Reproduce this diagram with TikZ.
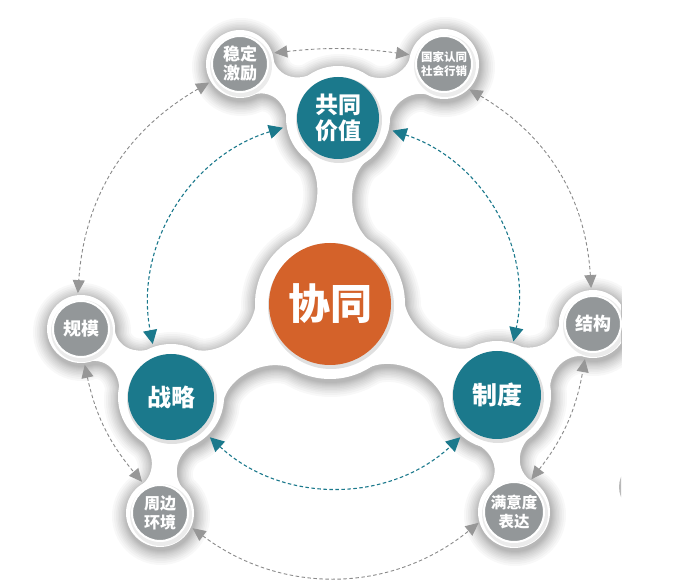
\documentclass[tikz,border=0pt]{standalone}
\usepackage{fontspec}
\newfontfamily\cjk{Noto Sans CJK SC}
\usetikzlibrary{calc,arrows.meta}
\pgfdeclarelayer{background}
\pgfsetlayers{background,main}
\definecolor{tealc}{HTML}{1B798C}
\definecolor{orangec}{HTML}{D4622A}
\definecolor{grayc}{HTML}{939799}
\definecolor{dashgray}{HTML}{8A8A8A}
\definecolor{tipgray}{HTML}{979797}
\tikzset{
 blobpath/.style={fill=white},
 cnode/.style={circle, inner sep=0pt, text=white, align=center},
 orangenode/.style={cnode, fill=orangec, minimum size=122pt, font=\cjk\bfseries\fontsize{42}{46}\selectfont},
 tealnode/.style={cnode, fill=tealc},
 graynode/.style={cnode, fill=grayc, draw=white, line width=2pt, minimum size=56pt, outer sep=8pt},
 tarc/.style={draw=tealc, line width=1.1pt, dash pattern=on 3.5pt off 2.5pt,
   {Triangle[length=14pt,width=14pt]}-{Triangle[length=14pt,width=14pt]}},
 garc/.style={draw=dashgray, line width=0.9pt, dash pattern=on 3.5pt off 2.5pt,
   {Triangle[length=13pt,width=12pt,color=tipgray]}-{Triangle[length=13pt,width=12pt,color=tipgray]}}
}
% neck between two ring disks: P Q rp rq w ap aq
\newcommand\neck[7]{%
  \coordinate (nA) at ($(#1)!#3!(#2)$);
  \coordinate (nB) at ($(#2)!#4!(#1)$);
  \path[blobpath] ($(#1)!#3!#6:(#2)$) .. controls ($(nA)!#5!90:(#2)$) and ($(nB)!#5!-90:(#1)$) .. ($(#2)!#4!-#7:(#1)$)
     -- ($(#2)!#4!#7:(#1)$) .. controls ($(nB)!#5!90:(#1)$) and ($(nA)!#5!-90:(#2)$) .. ($(#1)!#3!-#6:(#2)$) -- cycle;
}
\newcommand\blobshapes{%
  \path[blobpath] (C.center) circle (75);
  \path[blobpath] (V.center) circle (52);
  \path[blobpath] (S.center) circle (53);
  \path[blobpath] (Z.center) circle (54);
  \path[blobpath] (g1.center) circle (34);
  \path[blobpath] (g2.center) circle (35);
  \path[blobpath] (g3.center) circle (34);
  \path[blobpath] (g4.center) circle (34);
  \path[blobpath] (g5.center) circle (34);
  \path[blobpath] (g6.center) circle (36);
  \neck{C}{V}{75pt}{52pt}{10pt}{38}{42}
  \neck{C}{S}{75pt}{53pt}{10pt}{38}{42}
  \neck{C}{Z}{75pt}{54pt}{10pt}{38}{42}
  \neck{V}{g1}{52pt}{34pt}{7pt}{42}{48}
  \neck{V}{g2}{52pt}{35pt}{7pt}{42}{48}
  \neck{S}{g3}{53pt}{34pt}{7pt}{42}{48}
  \neck{S}{g5}{53pt}{34pt}{7pt}{42}{48}
  \neck{Z}{g4}{54pt}{34pt}{7pt}{42}{48}
  \neck{Z}{g6}{54pt}{36pt}{7pt}{42}{48}
}
\begin{document}
\begin{tikzpicture}[x=1pt,y=1pt]
\useasboundingbox (0,0) rectangle (679,583);
% nodes
\node[orangenode] (C) at (330,279) {协同};
\node[tealnode, minimum size=82pt, outer sep=15pt, font=\cjk\bfseries\fontsize{23}{26}\selectfont] (V) at (338,465) {共同\\价值};
\node[tealnode, minimum size=86pt, outer sep=13pt, font=\cjk\bfseries\fontsize{24}{26}\selectfont] (S) at (171,186) {战略};
\node[tealnode, minimum size=88pt, outer sep=12pt, font=\cjk\bfseries\fontsize{25}{27}\selectfont] (Z) at (497,188) {制度};
\node[graynode, font=\cjk\bfseries\fontsize{17}{19}\selectfont] (g1) at (240,519) {稳定\\激励};
\node[graynode, font=\cjk\bfseries\fontsize{11.5}{14}\selectfont] (g2) at (444,519) {国家认同\\社会行销};
\node[graynode, font=\cjk\bfseries\fontsize{18}{20}\selectfont] (g3) at (81,254) {规模};
\node[graynode, font=\cjk\bfseries\fontsize{18}{20}\selectfont] (g4) at (593,259) {结构};
\node[graynode, font=\cjk\bfseries\fontsize{16}{18.5}\selectfont] (g5) at (160,70) {周边\\环境};
\node[graynode, minimum size=60pt, outer sep=7pt, font=\cjk\bfseries\fontsize{15.5}{18.5}\selectfont] (g6) at (514,71) {满意度\\表达};
% background: white blob with soft shadow
\begin{pgfonlayer}{background}
  \fill[white] (0,0) rectangle (679,583);
  \begin{scope}
    \clip (0,0) rectangle (621,583);
    \begin{scope}[transform canvas={xshift=1pt,yshift=-3pt}]
      \foreach \w in {30,26,22,19,16,13,10,8,6,4,2} {
        \begin{scope}[transparency group, opacity=0.028]
          \tikzset{blobpath/.style={fill=black, draw=black, line join=round, line width=\w pt}}
          \blobshapes
        \end{scope}
      }
    \end{scope}
    \blobshapes
    % soft shadows under the coloured discs
    \fill[black, opacity=0.12] ($(C)+(1,-2)$) circle (63);
    \fill[black, opacity=0.12] ($(V)+(1,-2)$) circle (43);
    \fill[black, opacity=0.12] ($(S)+(1,-2)$) circle (45);
    \fill[black, opacity=0.12] ($(Z)+(1,-2)$) circle (46);
    \fill[black, opacity=0.08] ($(g1)+(1,-2)$) circle (31);
    \fill[black, opacity=0.08] ($(g2)+(1,-2)$) circle (31);
    \fill[black, opacity=0.08] ($(g3)+(1,-2)$) circle (31);
    \fill[black, opacity=0.08] ($(g4)+(1,-2)$) circle (31);
    \fill[black, opacity=0.08] ($(g5)+(1,-2)$) circle (31);
    \fill[black, opacity=0.08] ($(g6)+(1,-2)$) circle (33);
    \fill[gray!55] (645,96) circle (26);
  \end{scope}
\end{pgfonlayer}
% inner teal arcs
\draw[tarc] (V.190) to[bend right=42] (S.109);
\draw[tarc] (V.347) to[bend left=42] (Z.73);
\draw[tarc] (S.314) to[bend right=43] (Z.229);
% outer gray arcs
\draw[garc] (g1.18) to[bend left=7] (g2.165);
\draw[garc] (g1.211) to[bend right=28] (g3.95);
\draw[garc] (g3.276) to[bend right=14] (g5.120);
\draw[garc] (g5.335) to[bend right=38] (g6.197);
\draw[garc] (g6.62) to[bend right=14] (g4.257);
\draw[garc] (g4.93) to[bend right=28] (g2.315);
\end{tikzpicture}
\end{document}
